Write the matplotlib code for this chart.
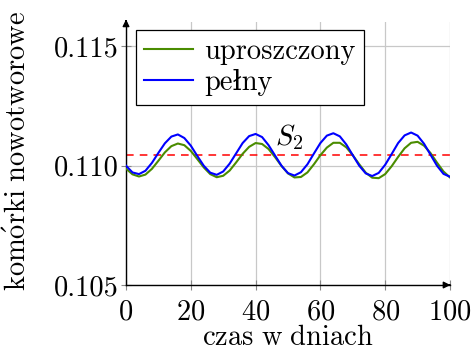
import matplotlib
matplotlib.use("Agg")
import matplotlib.pyplot as plt

# czas w dniach (co 2 dni)
czas = list(range(0, 101, 2))

# model uproszczony
uproszczony = [0.10987, 0.10963, 0.10954, 0.10962, 0.10986, 0.11020, 0.11055, 0.11081, 0.11092,
               0.11085, 0.11061, 0.11027, 0.10992, 0.10964, 0.10951, 0.10957, 0.10979, 0.11013,
               0.11049, 0.11078, 0.11094, 0.11090, 0.11069, 0.11035, 0.10998, 0.10967, 0.10950,
               0.10952, 0.10971, 0.11005, 0.11043, 0.11075, 0.11095, 0.11095, 0.11076, 0.11043,
               0.11005, 0.10970, 0.10949, 0.10947, 0.10964, 0.10997, 0.11036, 0.11072, 0.11095,
               0.11099, 0.11083, 0.11052, 0.11012, 0.10975, 0.10950]

# model pelny
pelny = [0.10999, 0.10971, 0.10964, 0.10978, 0.11011, 0.11053, 0.11093, 0.11121, 0.11130,
         0.11115, 0.11083, 0.11040, 0.10999, 0.10970, 0.10961, 0.10975, 0.11008, 0.11051,
         0.11094, 0.11123, 0.11132, 0.11119, 0.11085, 0.11042, 0.10999, 0.10968, 0.10958,
         0.10972, 0.11005, 0.11050, 0.11094, 0.11125, 0.11135, 0.11122, 0.11088, 0.11043,
         0.10999, 0.10967, 0.10956, 0.10969, 0.11003, 0.11048, 0.11094, 0.11126, 0.11138,
         0.11125, 0.11091, 0.11045, 0.10999, 0.10965, 0.10953]

# punkt stacjonarny S2
s2 = 0.11046

xticks = [0, 20, 40, 60, 80, 100]
yticks = [0.105, 0.110, 0.115]
ytick_labels = ["0.105", "0.110", "0.115"]

plt.rcParams['font.family'] = ['cmr10', 'DejaVu Serif']
plt.rcParams['mathtext.fontset'] = 'cm'
plt.rcParams['axes.formatter.use_mathtext'] = True
fs = 20.5

fig = plt.figure(figsize=(4.75, 3.53), dpi=100)
ax = fig.add_axes([0.2653, 0.1926, 0.682, 0.7448])

ax.plot(czas, uproszczony, color='#4a8c00', lw=1.5, label='uproszczony', zorder=3)
ax.plot(czas, pelny, color='#0000ff', lw=1.5, label='pełny', zorder=4)
ax.axhline(s2, color='#ff0000', lw=1.1, dashes=(5, 4), zorder=2)
ax.text(50.5, 0.1112, r'$S_2$', fontsize=fs, ha='center', va='center')

ax.set_xlim(0, 100)
ax.set_ylim(0.105, 0.116)
ax.set_xticks(xticks)
ax.set_yticks(yticks)
ax.set_yticklabels(ytick_labels)
ax.grid(True, color='#c8c8c8', lw=0.9)
ax.set_axisbelow(True)
ax.tick_params(direction='inout', length=7, width=0.8, color='#888888',
               labelsize=fs, pad=2)
ax.tick_params(axis='x', pad=7)

for s in ['top', 'right']:
    ax.spines[s].set_visible(False)
for s in ['left', 'bottom']:
    ax.spines[s].set_linewidth(1.0)
ax.annotate('', xy=(1.01, 0), xycoords='axes fraction', xytext=(0.99, 0),
            arrowprops=dict(arrowstyle='-|>', color='black', lw=1.0, mutation_scale=10))
ax.annotate('', xy=(0, 1.01), xycoords='axes fraction', xytext=(0, 0.99),
            arrowprops=dict(arrowstyle='-|>', color='black', lw=1.0, mutation_scale=10))

# opisy osi
fig.text(288 / 475, 2 / 353, r'$\mathrm{czas\ w\ dniach}$', fontsize=fs,
         ha='center', va='bottom')
fig.text(32 / 475, 0.572, r'$\mathrm{kom\acute{o}rki\ nowotworowe}$', fontsize=fs,
         rotation=90, ha='right', va='center')

leg = ax.legend(loc='upper left', bbox_to_anchor=(0.03, 0.97), fontsize=fs,
                frameon=True, fancybox=False, edgecolor='black', framealpha=1,
                handlelength=1.7, handletextpad=0.4, borderpad=0.3, labelspacing=0.15,
                borderaxespad=0)
leg.get_frame().set_linewidth(0.9)

fig.savefig('out.png', dpi=100)
